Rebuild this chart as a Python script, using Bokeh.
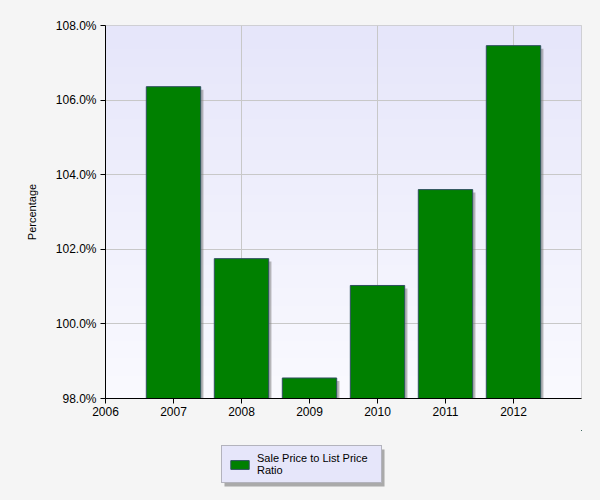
import numpy as np
from bokeh.plotting import figure
from bokeh.layouts import column
from bokeh.models import Legend, LegendItem, FixedTicker, Range1d, ColumnDataSource
from bokeh.transform import dodge
from bokeh.embed import file_html
from bokeh.resources import INLINE

# ---- data ----
years = [2007, 2008, 2009, 2010, 2011, 2012]
ratios = [106.36, 101.75, 98.55, 101.03, 103.60, 107.46]
series_name = "Sale Price to List Price\nRatio"
y_axis_title = "Percentage"
x_ticks = [2006, 2007, 2008, 2009, 2010, 2011, 2012]
x_grid_ticks = [2008, 2010, 2012]
y_ticks = [98, 100, 102, 104, 106, 108]
y_tick_labels = ["98.0%", "100.0%", "102.0%", "104.0%", "106.0%", "108.0%"]
x_start, x_end = 2006, 2013
y_start, y_end = 98, 108

FONT = "Liberation Sans"
PAGE_BG = "#f5f5f5"
BAR_FILL = "#008000"
BAR_LINE = "#2f4f5f"
W = 600
BL, BR = 105, 19          # left / right borders around the plotting frame

p = figure(width=W, height=430, output_backend="svg", toolbar_location=None,
           x_range=Range1d(x_start, x_end), y_range=Range1d(y_start, y_end),
           min_border_left=BL, min_border_right=BR, min_border_top=25, min_border_bottom=32)
p.border_fill_color = PAGE_BG
p.background_fill_color = "#eeeefb"
p.outline_line_color = "#c8c8c8"

# plot-area gradient background (lavender -> near white)
n = 64
top_c = np.array([230, 230, 250])
bot_c = np.array([250, 250, 255])
t = np.linspace(0, 1, n)[:, None]
cols = (bot_c * (1 - t) + top_c * t).astype(np.uint32)
img = np.empty((n, 1), dtype=np.uint32)
view = img.view(dtype=np.uint8).reshape((n, 1, 4))
view[:, 0, 0] = cols[:, 0]
view[:, 0, 1] = cols[:, 1]
view[:, 0, 2] = cols[:, 2]
view[:, 0, 3] = 255
p.image_rgba(image=[img], x=x_start, y=y_start, dw=x_end - x_start, dh=y_end - y_start, level="image")

src = ColumnDataSource(dict(x=years, top=ratios))
# bar shadows
p.vbar(x=dodge("x", 0.04, range=p.x_range), top=dodge("top", -0.08), bottom=y_start, width=0.8,
       source=src, fill_color="#808080", fill_alpha=0.55, line_color=None)
bars = p.vbar(x="x", top="top", bottom=y_start, width=0.8, source=src,
              fill_color=BAR_FILL, line_color=BAR_LINE, line_width=1)

# axes
for ax in (p.xaxis[0], p.yaxis[0]):
    ax.axis_line_color = "black"
    ax.major_tick_line_color = "black"
    ax.major_tick_out = 5
    ax.major_tick_in = 0
    ax.minor_tick_line_color = None
    ax.major_label_text_font = FONT
    ax.major_label_text_font_size = "12px"
    ax.major_label_text_color = "black"

p.xaxis.ticker = FixedTicker(ticks=x_ticks)
p.xaxis.major_label_standoff = 3
p.yaxis.ticker = FixedTicker(ticks=y_ticks)
p.yaxis.major_label_overrides = {v: s for v, s in zip(y_ticks, y_tick_labels)}
p.yaxis.major_label_standoff = 4
p.yaxis.axis_label = y_axis_title
p.yaxis.axis_label_text_font = FONT
p.yaxis.axis_label_text_font_size = "11px"
p.yaxis.axis_label_text_font_style = "normal"
p.yaxis.axis_label_text_color = "black"
p.yaxis.axis_label_standoff = 15

p.xgrid.ticker = FixedTicker(ticks=x_grid_ticks)
p.ygrid.ticker = FixedTicker(ticks=y_ticks)
p.grid.grid_line_color = "#c8c8c8"
p.grid.grid_line_width = 1

# ---- legend strip below the chart (its frame is aligned with the chart's frame) ----
LH = 70
FW = W - BL - BR                 # frame width in px
leg_x, leg_y = 221 - BL, 17      # legend box left / bottom in frame px
leg_w, leg_h = 160, 37
q = figure(width=W, height=LH, output_backend="svg", toolbar_location=None,
           x_range=Range1d(0, FW), y_range=Range1d(0, LH),
           min_border_left=BL, min_border_right=BR, min_border_top=0, min_border_bottom=0,
           x_axis_type=None, y_axis_type=None)
q.border_fill_color = PAGE_BG
q.background_fill_color = PAGE_BG
q.outline_line_color = None
q.grid.visible = False
# legend drop shadow
q.quad(left=[leg_x + 3], right=[leg_x + leg_w + 3], bottom=[leg_y - 3], top=[leg_y + leg_h - 3],
       fill_color="#8a8a8a", fill_alpha=0.7, line_color=None)
# proxy renderer sharing the bar data: degenerate (zero-size) bars outside this strip's ranges,
# it only feeds the legend swatch
proxy = q.vbar(x="x", top="top", bottom="top", width=0, source=src,
               fill_color=BAR_FILL, line_color=BAR_LINE, line_width=1)

legend = Legend(items=[LegendItem(label=series_name, renderers=[proxy])],
                location=(leg_x, leg_y), orientation="vertical",
                background_fill_color="#e6e6fa", background_fill_alpha=1,
                border_line_color="#808080", border_line_width=1,
                label_text_font=FONT, label_text_font_size="11px",
                label_text_color="black", label_text_line_height=1.0,
                glyph_width=23, glyph_height=11, label_standoff=6,
                label_width=118, padding=6, margin=0, spacing=0)
q.add_layout(legend, "center")

layout = column(p, q, spacing=0, styles={"background-color": PAGE_BG})
open("out.html", "w").write(file_html(layout, INLINE))
